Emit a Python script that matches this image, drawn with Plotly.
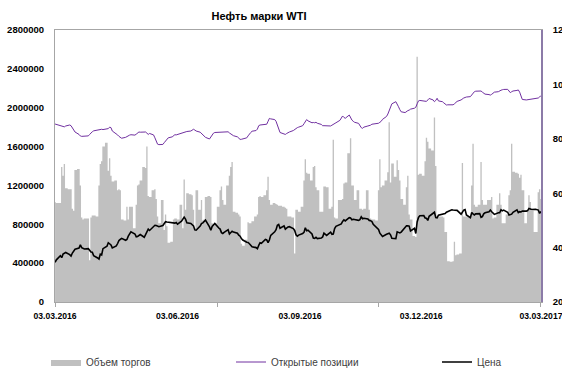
import pandas as pd
import plotly.graph_objects as go

# Trading days, 03.03.2016 - 03.03.2017
dates = pd.bdate_range("2016-03-03", "2017-03-03")

# Daily trading volume (contracts), one row per month
volume = [
    1030000, 1020000, 1020000, 1390000, 1300000, 1420000, 1170000, 1160000, 1160000, 960000, 940000,
    1360000, 1370000, 1200000, 870000, 850000, 860000, 860000, 430000, 870000, 890000,  # Mar 2016
    890000, 880000, 1200000, 1420000, 1450000, 1600000, 1640000, 1350000, 1480000, 1300000, 1240000,
    1250000, 1150000, 1160000, 1150000, 850000, 840000, 980000, 850000, 980000, 980000,  # Apr
    760000, 1000000, 1200000, 1210000, 1250000, 1390000, 1380000, 1600000, 1090000, 1080000, 1150000,
    1160000, 1060000, 880000, 810000, 1050000, 740000, 900000, 780000, 610000, 620000, 850000,  # May
    860000, 860000, 850000, 1000000, 760000, 1260000, 950000, 1120000, 1110000, 1100000, 950000,
    760000, 1150000, 950000, 1050000, 840000, 850000, 1080000, 1090000, 1080000, 810000, 800000,  # Jun
    810000, 980000, 1150000, 1190000, 1050000, 1000000, 1200000, 1300000, 1390000, 1440000, 930000,
    920000, 900000, 880000, 600000, 580000, 640000, 820000, 810000, 810000, 830000,  # Jul
    880000, 900000, 1080000, 1090000, 1080000, 1100000, 1150000, 1290000, 1050000, 1000000, 1020000, 1010000,
    1000000, 990000, 990000, 980000, 970000, 960000, 880000, 880000, 870000, 500000, 950000,  # Aug
    950000, 930000, 980000, 1250000, 1470000, 1330000, 1320000, 1250000, 1390000, 1400000, 1180000,
    1150000, 930000, 930000, 1190000, 1190000, 1180000, 960000, 980000, 1670000, 870000, 860000,  # Sep
    1050000, 1050000, 1060000, 1220000, 1230000, 1530000, 1685000, 1200000, 1200000, 1050000, 1150000,
    960000, 960000, 950000, 960000, 1150000, 950000, 860000, 850000, 850000, 840000,  # Oct
    1150000, 1469000, 1180000, 1200000, 1250000, 1335000, 1850000, 1230000, 1427000, 1290000, 1460000,
    1360000, 1250000, 1060000, 1000000, 1180000, 1300000, 900000, 850000, 680000, 670000, 2525000,  # Nov
    1310000, 1320000, 1300000, 1450000, 1690000, 1650000, 1580000, 1560000, 1900000, 1400000, 880000,
    880000, 880000, 870000, 720000, 720000, 420000, 415000, 420000, 620000, 480000, 490000,  # Dec
    500000, 1430000, 880000, 880000, 880000, 880000, 1200000, 1630000, 1000000, 980000, 1000000,
    1440000, 1050000, 1000000, 1000000, 1050000, 1050000, 1080000, 860000, 870000, 1000000, 1120000,  # Jan 2017
    1000000, 810000, 810000, 900000, 1100000, 1150000, 1630000, 1340000, 1330000, 1320000,
    1280000, 1310000, 1150000, 810000, 940000, 1100000, 1030000, 940000, 720000, 720000,  # Feb
    1130000, 1160000, 1060000,  # Mar
]

# Open interest (contracts)
open_interest = [
    1832000, 1828000, 1820000, 1815000, 1808000, 1803000, 1812000, 1822000, 1815000, 1795000, 1771000,
    1750000, 1725000, 1709000, 1705000, 1706000, 1708000, 1710000, 1725000, 1745000, 1753000,  # Mar 2016
    1762000, 1770000, 1775000, 1781000, 1778000, 1775000, 1780000, 1785000, 1800000, 1795000, 1760000,
    1735000, 1720000, 1705000, 1692000, 1686000, 1695000, 1705000, 1712000, 1718000, 1722000,  # Apr
    1718000, 1728000, 1740000, 1750000, 1748000, 1745000, 1750000, 1738000, 1725000, 1735000, 1720000,
    1690000, 1650000, 1625000, 1620000, 1622000, 1640000, 1660000, 1680000, 1690000, 1700000, 1708000,  # May
    1722000, 1720000, 1725000, 1735000, 1745000, 1748000, 1750000, 1755000, 1760000, 1768000, 1778000,
    1770000, 1760000, 1748000, 1735000, 1722000, 1710000, 1695000, 1678000, 1700000, 1730000, 1738000,  # Jun
    1745000, 1748000, 1752000, 1753000, 1752000, 1750000, 1752000, 1740000, 1730000, 1722000, 1712000,
    1700000, 1685000, 1674000, 1675000, 1678000, 1690000, 1710000, 1735000, 1745000, 1758000,  # Jul
    1765000, 1780000, 1815000, 1822000, 1825000, 1828000, 1830000, 1860000, 1890000, 1885000, 1878000, 1860000,
    1820000, 1780000, 1745000, 1730000, 1725000, 1735000, 1745000, 1750000, 1765000, 1778000, 1790000,  # Aug
    1795000, 1800000, 1815000, 1835000, 1856000, 1878000, 1865000, 1845000, 1848000, 1845000, 1850000,
    1840000, 1828000, 1815000, 1815000, 1813000, 1812000, 1812000, 1820000, 1830000, 1835000, 1845000,  # Sep
    1870000, 1890000, 1915000, 1900000, 1891000, 1925000, 1895000, 1873000, 1860000, 1850000, 1839000,
    1815000, 1795000, 1788000, 1800000, 1812000, 1815000, 1820000, 1830000, 1832000, 1838000,  # Oct
    1840000, 1850000, 1860000, 1880000, 1910000, 1935000, 1970000, 1990000, 2040000, 2062000, 2040000,
    2010000, 1980000, 1958000, 1950000, 1962000, 1970000, 1975000, 1985000, 1995000, 2005000, 2040000,  # Nov
    2070000, 2075000, 2070000, 2062000, 2065000, 2080000, 2095000, 2080000, 2062000, 2075000, 2097000,
    2070000, 2062000, 2050000, 2040000, 2028000, 2030000, 2028000, 2030000, 2040000, 2050000, 2065000,  # Dec
    2080000, 2095000, 2100000, 2105000, 2110000, 2114000, 2130000, 2150000, 2165000, 2170000, 2175000,
    2172000, 2160000, 2150000, 2140000, 2135000, 2130000, 2138000, 2150000, 2160000, 2165000, 2175000,  # Jan 2017
    2180000, 2185000, 2188000, 2189000, 2175000, 2155000, 2165000, 2172000, 2178000, 2183000,
    2160000, 2120000, 2085000, 2080000, 2082000, 2086000, 2090000, 2088000, 2093000, 2097000,  # Feb
    2100000, 2110000, 2125000,  # Mar
]

# Settlement price, USD per barrel
price = [
    34.6, 35.5, 37.0, 36.3, 37.6, 37.8, 38.2, 37.4, 36.9, 38.0, 38.6,
    39.4, 39.8, 41.0, 40.0, 39.6, 39.5, 39.6, 39.0, 38.4, 38.3,  # Mar 2016
    37.0, 36.2, 35.8, 37.6, 37.3, 39.6, 40.5, 41.8, 41.2, 41.0, 39.9,
    40.6, 41.5, 42.6, 43.0, 43.4, 42.7, 43.0, 44.2, 45.2, 45.8,  # Apr
    45.0, 44.0, 44.1, 44.5, 44.8, 43.8, 44.9, 46.2, 46.8, 46.3, 47.6,
    48.2, 48.1, 48.0, 47.7, 48.1, 49.0, 49.5, 49.4, 49.3, 49.1, 49.0,  # May
    49.0, 49.2, 48.6, 49.7, 50.4, 51.2, 50.5, 49.1, 48.9, 48.5, 48.0,
    46.5, 46.4, 47.9, 48.8, 49.1, 49.8, 50.1, 47.6, 46.4, 47.8, 48.3,  # Jun
    48.9, 47.2, 46.8, 45.5, 45.2, 45.6, 46.6, 45.0, 45.6, 46.0, 45.7,
    45.3, 44.6, 44.2, 43.3, 42.8, 42.0, 41.9, 41.4, 40.9, 40.3,  # Jul
    40.0, 39.6, 40.8, 41.8, 41.6, 43.0, 42.8, 41.8, 42.8, 44.5, 45.8, 46.6,
    48.2, 48.5, 47.1, 48.0, 46.8, 47.3, 47.6, 47.7, 47.0, 46.3, 44.7,  # Aug
    44.2, 44.6, 45.2, 45.6, 47.3, 46.2, 46.4, 45.0, 43.5, 43.4, 43.8,
    43.3, 43.5, 43.9, 45.3, 45.0, 44.5, 45.7, 44.9, 45.0, 47.0, 47.8,  # Sep
    48.6, 48.7, 49.6, 50.2, 49.8, 51.0, 50.9, 50.2, 50.4, 50.3, 50.0,
    50.3, 51.3, 50.6, 50.8, 50.5, 50.0, 49.9, 49.6, 48.6, 47.0,  # Oct
    46.7, 45.3, 44.7, 44.1, 44.9, 45.0, 45.3, 44.7, 43.4, 43.3, 45.8,
    45.6, 45.4, 45.7, 47.5, 48.0, 48.0, 47.9, 46.1, 47.1, 45.2, 49.4,  # Nov
    51.1, 51.7, 51.8, 50.9, 50.8, 50.0, 51.5, 52.8, 53.0, 51.0, 50.9,
    51.9, 52.1, 52.2, 52.5, 53.0, 53.2, 53.9, 53.8, 53.7, 53.8, 53.7,  # Dec
    52.3, 53.3, 53.8, 54.0, 52.0, 51.0, 52.9, 52.4, 52.0, 52.4, 52.5,
    51.1, 51.4, 52.4, 52.8, 53.2, 53.8, 53.2, 52.6, 52.2, 52.8, 52.8,  # Jan 2017
    53.9, 53.5, 53.8, 53.0, 52.0, 52.2, 52.3, 53.0, 53.9, 52.9,
    53.2, 53.1, 53.4, 53.4, 53.6, 54.4, 54.1, 54.0, 54.1, 54.0,  # Feb
    53.8, 52.6, 53.3,  # Mar
]

x_tick_dates = ["2016-03-03", "2016-06-03", "2016-09-03", "2016-12-03", "2017-03-03"]
x_tick_text = ["03.03.2016", "03.06.2016", "03.09.2016", "03.12.2016", "03.03.2017"]

FONT = "Liberation Sans, Arial, sans-serif"
AXIS_GREY = "#A6A6A6"

fig = go.Figure()

# Volume as contiguous columns (stepped filled area)
fig.add_trace(go.Scatter(
    x=dates, y=volume, name="Объем торгов",
    mode="lines", line=dict(shape="hvh", width=0, color="#C0C0C0"),
    fill="tozeroy", fillcolor="#C0C0C0",
    legendwidth=140,
))

fig.add_trace(go.Scatter(
    x=dates, y=open_interest, name="Открытые позиции",
    mode="lines", line=dict(color="#7030A0", width=1),
    legendwidth=161,
))

fig.add_trace(go.Scatter(
    x=dates, y=price, name="Цена", yaxis="y2",
    mode="lines", line=dict(color="#000000", width=1.6),
))

fig.update_layout(
    width=562, height=374,
    margin=dict(l=55, r=21, t=30, b=72, pad=0),
    paper_bgcolor="white", plot_bgcolor="white",
    font=dict(family=FONT, color="#000000"),
    title=dict(
        text="<b>Нефть марки WTI</b>", font=dict(size=11, family=FONT, color="#000000"),
        xref="container", x=259 / 562, xanchor="center",
        yref="container", y=1 - 16 / 374, yanchor="middle",
    ),
    showlegend=True,
    legend=dict(
        orientation="h", xref="container", yref="container",
        x=46 / 562, xanchor="left", y=1 - 347.5 / 374, yanchor="top",
        font=dict(size=10, family=FONT, color="#404040"),
        bgcolor="rgba(0,0,0,0)", borderwidth=0,
    ),
    xaxis=dict(
        type="date", range=["2016-03-02 23:00", "2017-03-03 01:00"],
        tickmode="array", tickvals=x_tick_dates, ticktext=x_tick_text,
        ticks="", ticklabelstandoff=6, ticklabeloverflow="allow",
        tickfont=dict(size=8.6, family=FONT, color="#000000", weight="bold"),
        showline=True, linecolor=AXIS_GREY, linewidth=1, mirror=True,
        showgrid=False, zeroline=False, automargin=False,
        minor=dict(tick0="2016-03-03", dtick=365 / 3 * 86400000, ticks="outside",
                   ticklen=4, tickcolor=AXIS_GREY, showgrid=False),
    ),
    yaxis=dict(
        range=[0, 2800000], dtick=400000, tick0=0, tickformat="d",
        ticks="", ticklabelstandoff=8,
        tickfont=dict(size=9.5, family=FONT, color="#000000", weight="bold"),
        showline=True, linecolor=AXIS_GREY, linewidth=1,
        showgrid=False, zeroline=False, automargin=False,
    ),
    yaxis2=dict(
        overlaying="y", side="right", range=[20, 120], dtick=20, tick0=20,
        ticks="", ticklabelstandoff=8,
        tickfont=dict(size=9.5, family=FONT, color="#000000", weight="bold"),
        showline=True, linecolor="#8C7BA8", linewidth=1.5,
        showgrid=False, zeroline=False, automargin=False,
    ),
)

fig.write_html("out.html")
